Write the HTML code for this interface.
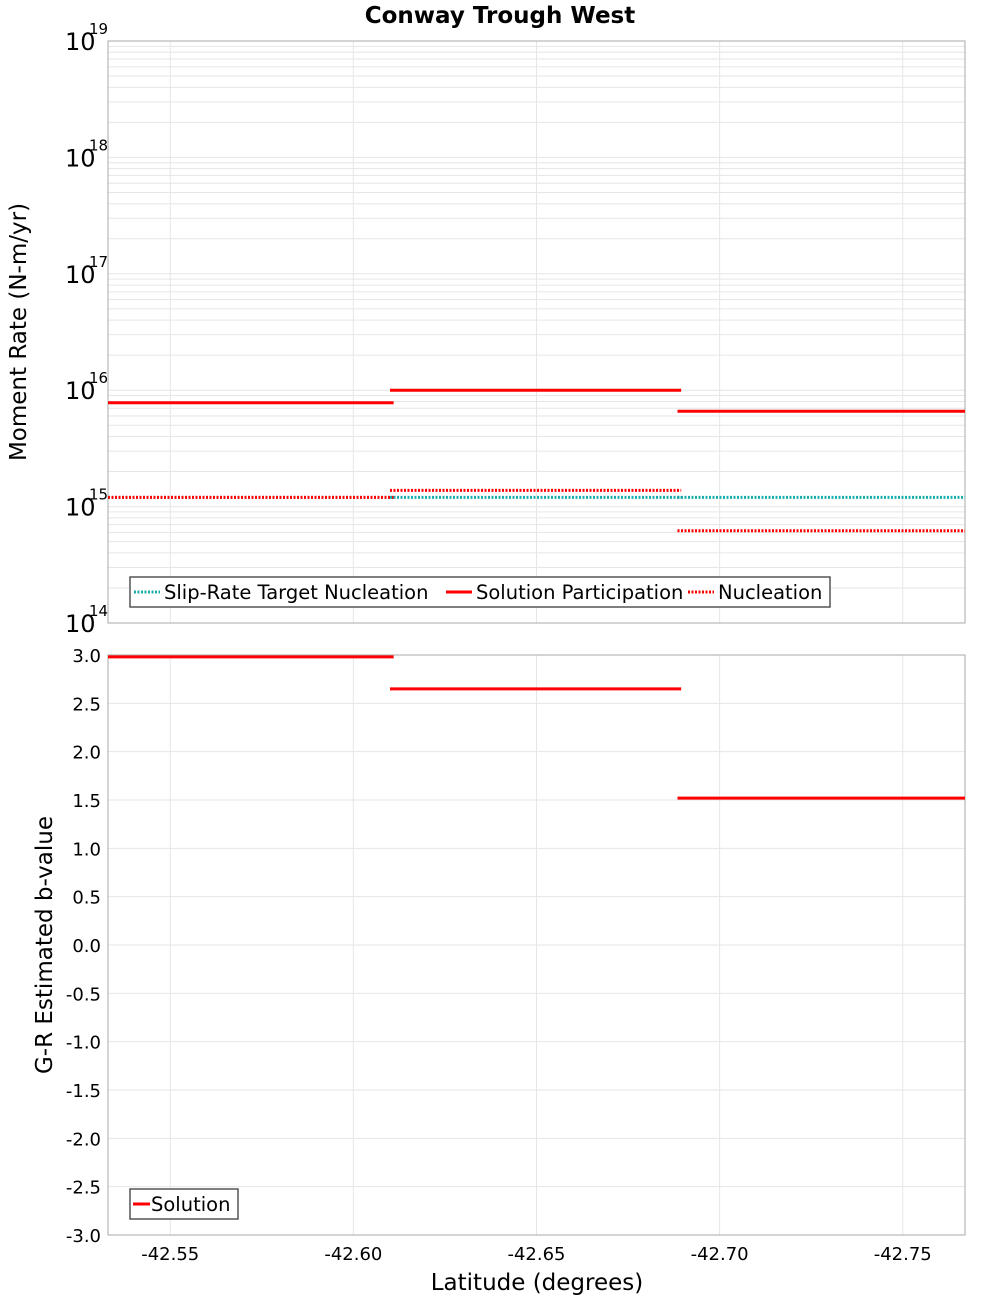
<!DOCTYPE html>
<html><head><meta charset="utf-8"><style>
body{margin:0;background:#fff;}
svg{display:block;font-family:"DejaVu Sans","Liberation Sans",sans-serif;}
</style></head><body>
<svg id="c" width="1000" height="1300" xmlns="http://www.w3.org/2000/svg"></svg>
<script>
const segStarts=[-42.5330,-42.6100,-42.6885];
const segEnds=[-42.6110,-42.6895,-42.7670];
const participation=[7.8e15,1.0e16,6.6e15];
const nucleation=[1.2e15,1.38e15,6.2e14];
const target=[1.2e15,1.2e15,1.2e15];
const bValues=[2.98,2.65,1.52];
const xTicks=[-42.55,-42.60,-42.65,-42.70,-42.75];
const logTicks=[14,15,16,17,18,19];
const bTicks=[3,2.5,2,1.5,1,0.5,0,-0.5,-1,-1.5,-2,-2.5,-3];

const L=108,R=965,T1=41,B1=623,T2=655,B2=1235;
const xMin=-42.5330,xMax=-42.7670;
const sx=v=>L+(v-xMin)/(xMax-xMin)*(R-L);
const sy1=v=>T1+(19-Math.log10(v))/5*(B1-T1);
const sy2=v=>T2+(3-v)/6*(B2-T2);
const svg=document.getElementById('c');
const NS='http://www.w3.org/2000/svg';
function mk(tag,attrs,parent){const e=document.createElementNS(NS,tag);for(const k in attrs)e.setAttribute(k,attrs[k]);(parent||svg).appendChild(e);return e;}
function txt(s,attrs){const e=mk('text',attrs);e.textContent=s;return e;}

let t=txt('Conway Trough West',{x:500,y:23,'text-anchor':'middle','font-size':23,'font-weight':'bold'});



for(let d=14;d<19;d++){for(let m=1;m<10;m++){const y=sy1(m*Math.pow(10,d));
const g=mk('line',{x1:L,x2:R,y1:y,y2:y,stroke:'#e6e6e6','stroke-width':1});

}}
for(const v of xTicks){for(const [a,b] of [[T1,B1],[T2,B2]]){const g=mk('line',{x1:sx(v),x2:sx(v),y1:a,y2:b,stroke:'#e6e6e6','stroke-width':1});

}}
for(const v of bTicks){const g=mk('line',{x1:L,x2:R,y1:sy2(v),y2:sy2(v),stroke:'#e6e6e6','stroke-width':1});

}

let f=mk('rect',{x:L,y:T1,width:R-L,height:B1-T1,fill:'none',stroke:'#aaa','stroke-width':1});


f=mk('rect',{x:L,y:T2,width:R-L,height:B2-T2,fill:'none',stroke:'#aaa','stroke-width':1});



for(const d of logTicks){const y=sy1(Math.pow(10,d));
const a=txt('10',{x:65,y:y+9,'font-size':24});


const b=txt(String(d),{x:89,y:y-7,'font-size':15});

}
for(const v of bTicks){const a=txt(v.toFixed(1),{x:101,y:sy2(v)+7,'font-size':18,'text-anchor':'end'});

}
for(const v of xTicks){const a=txt(v.toFixed(2),{x:sx(v),y:1260,'font-size':18,'text-anchor':'middle'});

}

t=txt('Moment Rate (N-m/yr)',{x:0,y:0,'font-size':23,'text-anchor':'middle',transform:'translate(26,332) rotate(-90)'});


t=txt('G-R Estimated b-value',{x:0,y:0,'font-size':23,'text-anchor':'middle',transform:'translate(52,945) rotate(-90)'});


t=txt('Latitude (degrees)',{x:537,y:1290,'font-size':23,'text-anchor':'middle'});



for(let i=0;i<segStarts.length;i++){
 let l=mk('line',{x1:sx(segStarts[i]),x2:sx(segEnds[i]),y1:sy1(target[i]),y2:sy1(target[i]),stroke:'#1aacac','stroke-width':3,'stroke-dasharray':'2,1.5'});
 
 
 l=mk('line',{x1:sx(segStarts[i]),x2:sx(segEnds[i]),y1:sy1(nucleation[i]),y2:sy1(nucleation[i]),stroke:'#f00','stroke-width':3,'stroke-dasharray':'2,1.5'});
 
 
 l=mk('line',{x1:sx(segStarts[i]),x2:sx(segEnds[i]),y1:sy1(participation[i]),y2:sy1(participation[i]),stroke:'#f00','stroke-width':3});
 
 
 l=mk('line',{x1:sx(segStarts[i]),x2:sx(segEnds[i]),y1:sy2(bValues[i]),y2:sy2(bValues[i]),stroke:'#f00','stroke-width':3});
 
 
}

let lg=mk('rect',{x:130,y:577,width:700,height:30,fill:'#fff',stroke:'#555','stroke-width':1.5});


const items=[['Slip-Rate Target Nucleation','#1aacac',true,134],['Solution Participation','#f00',false,446],['Nucleation','#f00',true,688]];
for(const [s,c,d,x] of items){
 const l=mk('line',{x1:x,x2:x+26,y1:592,y2:592,stroke:c,'stroke-width':3,'stroke-dasharray':d?'2,1.5':'none'});
 
 
 const e=txt(s,{x:x+30,y:599,'font-size':19.5});
 
 
}
lg=mk('rect',{x:130,y:1189,width:108,height:30,fill:'#fff',stroke:'#555','stroke-width':1.5});


let l=mk('line',{x1:133,x2:150,y1:1204,y2:1204,stroke:'#f00','stroke-width':3});


let e=txt('Solution',{x:151,y:1211,'font-size':19.5});


</script>
</body></html>
